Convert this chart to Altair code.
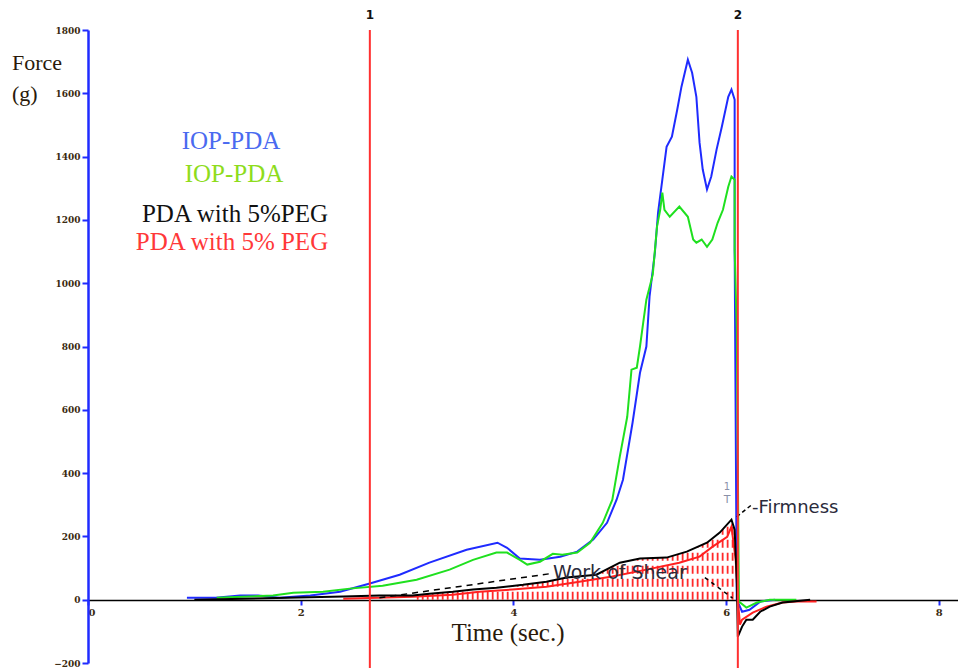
import altair as alt
import pandas as pd

# ---- data (time in s, force in g) ----
blue_t = [0.93, 1.20, 1.43, 1.60, 1.80, 2.09, 2.37, 2.65, 2.93, 3.21, 3.56, 3.85, 3.94, 4.06, 4.25, 4.44,
          4.60, 4.75, 4.88, 4.97, 5.03, 5.12, 5.19, 5.25, 5.28, 5.33, 5.36, 5.40, 5.44, 5.49, 5.54, 5.58,
          5.64, 5.68, 5.72, 5.75, 5.78, 5.82, 5.86, 5.91, 5.96, 6.02, 6.05, 6.08, 6.08, 6.10, 6.15, 6.22,
          6.32, 6.46]
blue_f = [6, 6, 13, 13, 6, 13, 25, 51, 79, 117, 158, 180, 164, 130, 126, 136,
          152, 190, 243, 316, 379, 559, 717, 800, 958, 1097, 1223, 1327, 1431, 1463, 1548, 1621,
          1706, 1665, 1589, 1444, 1359, 1296, 1337, 1422, 1495, 1589, 1612, 1580, 1106, 0, -38, -32,
          -6, 0]

green_t = [1.21, 1.74, 1.93, 2.21, 2.46, 2.77, 3.09, 3.40, 3.62, 3.84, 3.94, 4.06, 4.13, 4.25, 4.37,
           4.46, 4.60, 4.72, 4.84, 4.93, 5.00, 5.07, 5.11, 5.16, 5.19, 5.22, 5.25, 5.31, 5.35, 5.38,
           5.40, 5.42, 5.47, 5.56, 5.64, 5.69, 5.72, 5.77, 5.82, 5.87, 5.92, 5.97, 6.02, 6.05, 6.08,
           6.08, 6.10, 6.12, 6.19, 6.29, 6.41, 6.66]
green_f = [6, 13, 22, 25, 35, 44, 63, 95, 126, 149, 149, 126, 111, 120, 145,
           142, 149, 180, 243, 316, 452, 578, 727, 733, 800, 875, 948, 1027, 1179, 1232,
           1286, 1232, 1210, 1242, 1210, 1138, 1128, 1138, 1115, 1138, 1191, 1232, 1305, 1337, 1327,
           1106, 853, -6, -25, -9, 0, 0]

black_t = [1.00, 2.40, 2.74, 3.05, 3.21, 3.43, 3.62, 3.84, 4.09, 4.31, 4.50, 4.78, 5.00, 5.19, 5.44,
           5.63, 5.82, 5.94, 6.05, 6.08, 6.10, 6.11, 6.15, 6.19, 6.25, 6.32, 6.41, 6.53, 6.63, 6.79]
black_f = [0, 10, 13, 13, 19, 25, 32, 38, 47, 57, 70, 79, 117, 130, 133,
           152, 180, 212, 253, 221, 63, -117, -85, -63, -63, -38, -22, -9, -6, 0]

red_t = [2.40, 3.05, 3.43, 3.68, 3.99, 4.31, 4.62, 4.93, 5.25, 5.56, 5.75, 5.87, 6.01, 6.05, 6.09,
         6.11, 6.13, 6.15, 6.25, 6.38, 6.53, 6.66, 6.85]
red_f = [3, 9, 16, 25, 32, 41, 57, 73, 95, 117, 136, 167, 199, 231, 126,
         0, -79, -63, -41, -22, -9, -6, -6]

# annotation leader lines
ws_t = [2.74, 4.34]
ws_f = [6, 82]
ws2_t = [5.80, 6.06]
ws2_f = [70, 5]
fm_t = [6.10, 6.24]
fm_f = [262, 300]

markers_t = [2.65, 6.11]
markers_lbl = ["1", "2"]

y_ticks = [-200, 0, 200, 400, 600, 800, 1000, 1200, 1400, 1600, 1800]
x_ticks = [0, 2, 4, 6, 8]

series = {
    "blue": (blue_t, blue_f, "#1f2bff"),
    "green": (green_t, green_f, "#1fe01f"),
    "red": (red_t, red_f, "#ff2020"),
    "black": (black_t, black_f, "#000000"),
}

rows = []
for name, (ts, fs, _) in series.items():
    for i, (t, f) in enumerate(zip(ts, fs)):
        rows.append({"s": name, "t": t, "f": f, "i": i})
df = pd.DataFrame(rows)

L = 88   # plot left in page px
T = 30   # plot top in page px

xs = alt.Scale(domain=[0, 8.18], nice=False, zero=False)
ys = alt.Scale(domain=[-200, 1800], nice=False, zero=False)

xaxis = alt.Axis(values=x_ticks, offset=-63, domainColor="black", domainWidth=1.5,
                 tickColor="#1f2bff", tickWidth=2, tickSize=5, grid=False, format="d",
                 labelFont="DejaVu Serif", labelFontWeight="bold", labelFontSize=10,
                 labelColor="#3a2a10", labelPadding=2, title=None)
yaxis = alt.Axis(values=y_ticks, domainColor="#1f2bff", domainWidth=2.5, format="d",
                 tickColor="#1f2bff", tickWidth=2, tickSize=6, grid=False,
                 labelFont="DejaVu Serif", labelFontWeight="bold", labelFontSize=9,
                 labelColor="#3a2a10", labelPadding=2, title=None)

X = alt.X("t:Q", scale=xs, axis=xaxis, title=None)
Y = alt.Y("f:Q", scale=ys, axis=yaxis, title=None)

layers = []

# hatching (Work of Shear area) - vertical dashed red strokes, masked above the black curve
hatch = alt.Chart(alt.sequence(3.10, 6.07, 0.047, as_="t")).mark_rule(
    color="#ff2a2a", strokeWidth=1.8, strokeDash=[8, 5]
).encode(x=X, y=alt.YDatum(0, scale=ys, axis=yaxis, title=None),
         y2=alt.Y2Datum(290))
layers.append(hatch)

mask = alt.Chart(df).transform_filter(
    "datum.s == 'black' && datum.t >= 2.9 && datum.t <= 6.085"
).mark_area(color="white", opacity=1).encode(
    x=X, y=Y, y2=alt.Y2Datum(300))
layers.append(mask)

for name, (_, _, col) in series.items():
    layers.append(
        alt.Chart(df).transform_filter(f"datum.s == '{name}'").mark_line(
            color=col, strokeWidth=2, interpolate="linear"
        ).encode(x=X, y=Y, order="i:Q")
    )

def dashed(ts, fs, dash=[6, 5]):
    d = pd.DataFrame({"t": ts, "f": fs})
    return alt.Chart(d).mark_line(color="black", strokeWidth=1.5, strokeDash=dash).encode(x=X, y=Y)

layers.append(dashed(ws_t, ws_f))
layers.append(dashed(ws2_t, ws2_f, [4, 4]))
layers.append(dashed(fm_t, fm_f, [4, 3]))

mk = pd.DataFrame({"t": markers_t, "lbl": markers_lbl})
layers.append(alt.Chart(mk).mark_rule(color="#ff3030", strokeWidth=2).encode(
    x=X, y=alt.YDatum(1800, scale=ys, axis=yaxis, title=None), y2=alt.Y2Value(640)))
layers.append(alt.Chart(mk).mark_text(fontSize=12, fontWeight="bold", font="DejaVu Sans",
                                      color="#111").encode(
    x=X, y=alt.YValue(15 - T), text="lbl:N"))

def txt(s, px, py, size, color, font="Liberation Serif", align="center", weight="normal"):
    return alt.Chart(pd.DataFrame({"v": [s]})).mark_text(
        fontSize=size, color=color, font=font, align=align, baseline="middle", fontWeight=weight
    ).encode(x=alt.XValue(px - L), y=alt.YValue(py - T), text="v:N")

layers += [
    txt("Force", 12, 63, 22, "#2a1a0a", align="left"),
    txt("(g)", 12, 94, 22, "#2a1a0a", align="left"),
    txt("IOP-PDA", 231, 141, 25, "#4a6af0"),
    txt("IOP-PDA", 234, 174, 25, "#8edc1c"),
    txt("PDA with 5%PEG", 235, 214, 25, "#111111"),
    txt("PDA with 5% PEG", 232, 242, 25, "#ff3838"),
    txt("Time (sec.)", 508, 633, 25, "#2a1a0a"),
    txt("Work of Shear", 553, 573, 19, "#2a2a3a", font="DejaVu Sans", align="left"),
    txt("-Firmness", 752, 508, 18, "#2a2a3a", font="DejaVu Sans", align="left"),
    txt("1", 727, 487, 10, "#8a90a8", font="DejaVu Sans"),
    txt("T", 727, 500, 11, "#8a90a8", font="DejaVu Sans"),
]

chart = alt.layer(*layers).properties(
    width=870, height=633,
    padding={"left": 80, "top": 22, "right": 0, "bottom": 6},
    autosize=alt.AutoSizeParams(type="none"),
    background="white",
).configure_view(stroke=None)

chart.save("out.html", embed_options={"renderer": "svg", "actions": False})
